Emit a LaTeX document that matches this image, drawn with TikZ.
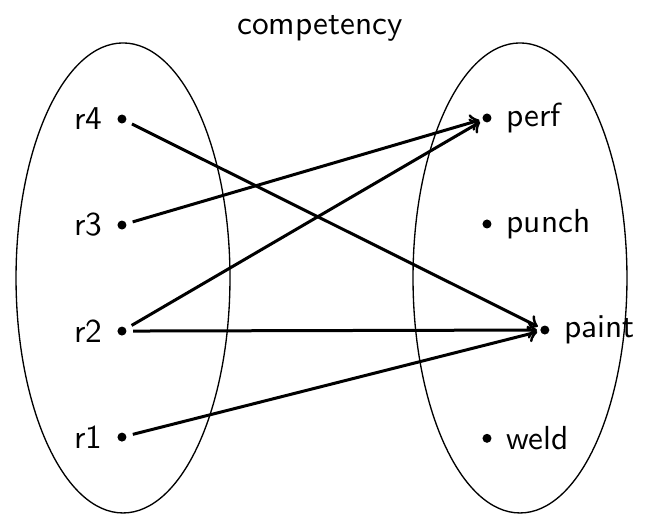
\documentclass[tikz,border=0pt]{standalone}
\usetikzlibrary{positioning}
\begin{document}
\begin{tikzpicture}[
    font=\sffamily,
    node distance=1.118cm, on grid,
    dot/.style={circle, fill, inner sep=0pt, minimum size=2.7pt, outer sep=1pt},
    arrow/.style={->, line width=0.9pt, shorten <=1pt},
]
    \useasboundingbox (0,0) rectangle (6.875,5.430);
    \draw (1.297,2.499) ellipse [x radius=1.128cm, y radius=2.478cm];
    \draw (5.483,2.499) ellipse [x radius=1.128cm, y radius=2.478cm];
    \node (title) at (3.374,5.135) {competency};

    \node[dot, label={[label distance=0pt]left:r4}] (r4) at (1.286,4.175) {};
    \node[dot, label={[label distance=0pt]left:r3}, below=of r4] (r3) {};
    \node[dot, label={[label distance=0pt]left:r2}, below=of r3] (r2) {};
    \node[dot, label={[label distance=0pt]left:r1}, below=of r2] (r1) {};

    \node[dot, label={[label distance=0pt]right:perf}] (perf) at (5.135,4.186) {};
    \node[dot, label={[label distance=0pt]right:punch}, below=of perf] (punch) {};
    \node[dot, label={[label distance=0pt]right:paint}, below right=1.118cm and 0.61cm of punch] (paint) {};
    \node[dot, label={[label distance=0pt]right:weld}, below=2.26cm of punch] (weld) {};

    \draw[arrow] (r4) -- (paint);
    \draw[arrow] (r3) -- (perf);
    \draw[arrow] (r2) -- (perf);
    \draw[arrow] (r2) -- (paint);
    \draw[arrow] (r1) -- (paint);
\end{tikzpicture}
\end{document}
